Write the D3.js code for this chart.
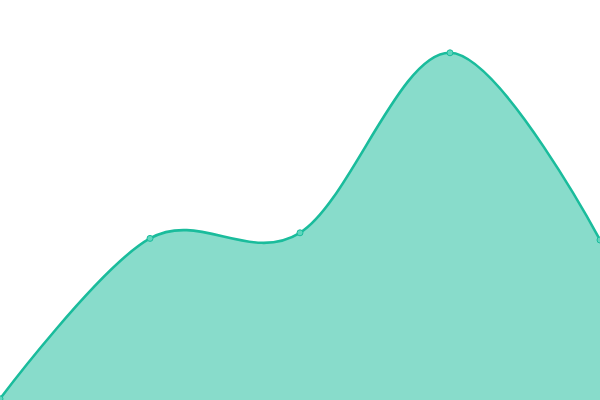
<!DOCTYPE html>
<html>
<head>
<meta charset="utf-8">
<script src="https://cdn.jsdelivr.net/npm/d3@7"></script>
<style>
  html, body { margin: 0; padding: 0; background: #fff; }
  svg { display: block; }
</style>
</head>
<body>
<div id="chart"></div>
<script>
// data points (index along x, value along y)
const categories = [0, 1, 2, 3, 4];
const values = [0.3, 40.4, 41.8, 86.8, 40];

const width = 600;
const height = 400;

const svg = d3.select('#chart')
  .append('svg')
  .attr('width', width)
  .attr('height', height)
  .attr('viewBox', [0, 0, width, height]);

const x = d3.scaleLinear()
  .domain([0, categories.length - 1])
  .range([0, width]);

const y = d3.scaleLinear()
  .domain([0, 100])
  .range([height, 0]);

const data = categories.map((c, i) => ({ c, v: values[i] }));

// area fill
const area = d3.area()
  .x(d => x(d.c))
  .y0(y(0))
  .y1(d => y(d.v))
  .curve(d3.curveCardinal);

svg.append('path')
  .datum(data)
  .attr('d', area)
  .attr('fill', '#1abc9c')
  .attr('fill-opacity', 0.52);

// line on top
const line = d3.line()
  .x(d => x(d.c))
  .y(d => y(d.v))
  .curve(d3.curveCardinal);

svg.append('path')
  .datum(data)
  .attr('d', line)
  .attr('fill', 'none')
  .attr('stroke', '#1abc9c')
  .attr('stroke-width', 2.6);

// small markers
svg.append('g')
  .selectAll('circle')
  .data(data)
  .join('circle')
  .attr('cx', d => x(d.c))
  .attr('cy', d => y(d.v))
  .attr('r', 3)
  .attr('fill', '#5fd6be')
  .attr('stroke', '#1abc9c')
  .attr('stroke-width', 1);
</script>
</body>
</html>
